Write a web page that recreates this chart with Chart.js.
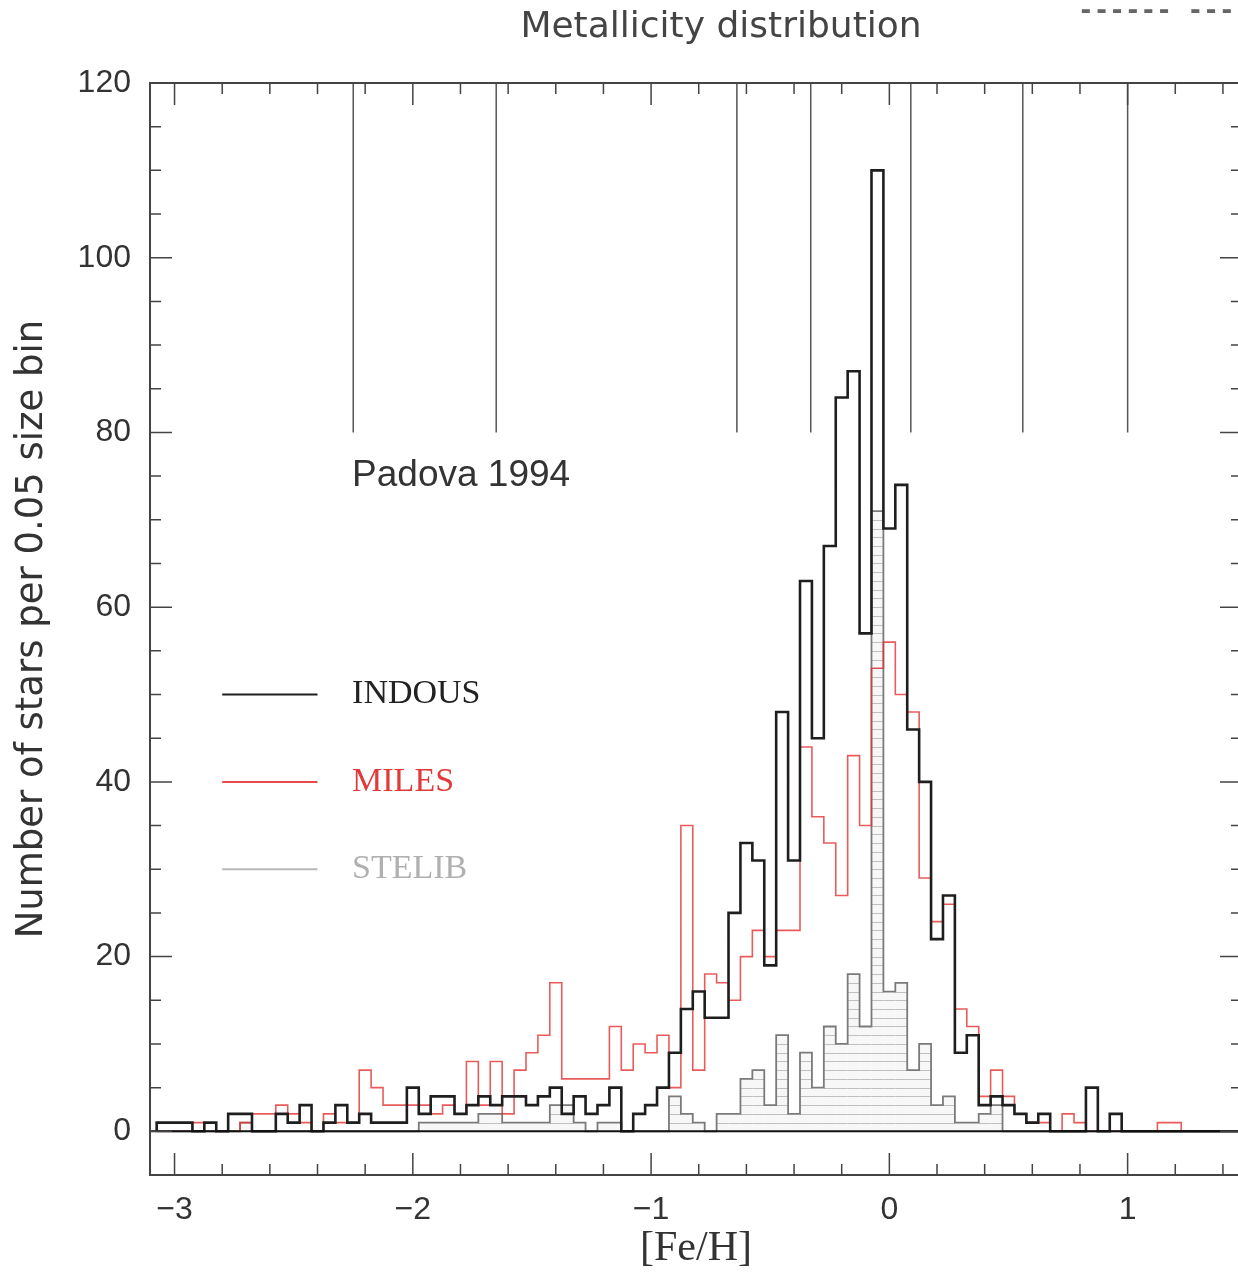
<!DOCTYPE html>
<html>
<head>
<meta charset="utf-8">
<script src="https://cdn.jsdelivr.net/npm/chart.js@4.4.0/dist/chart.umd.min.js"></script>
<style>
  html, body { margin: 0; padding: 0; overflow: hidden; background: #fff; }
  #wrap { width: 1248px; height: 1275px; }
</style>
</head>
<body>
<div id="wrap"><canvas id="metCanvas" width="1248" height="1275"></canvas></div>
<script>
// [Fe/H] histograms in 0.05 dex bins, first bin centred on -3.05
const binStart = -3.075;
const binWidth = 0.05;

const indous = [
  1, 1, 1, 0, 1, 0, 2, 2, 0, 0,
  2, 1, 3, 0, 1, 3, 1, 2, 1, 1,
  1, 5, 2, 4, 4, 2, 3, 4, 3, 4,
  4, 3, 4, 5, 2, 4, 2, 3, 5, 0,
  2, 3, 5, 9, 14, 16, 13, 13, 25, 33,
  31, 19, 48, 31, 63, 45, 67, 84, 87, 57,
  110, 69, 74, 46, 40, 22, 27, 9, 11, 3,
  4, 3, 2, 1, 2, 0, 0, 0, 5, 0,
  2, 0, 0, 0, 0, 0, 0, 0, 0, 0, 0
];
const miles = [
  0, 0, 0, 1, 0, 0, 0, 1, 2, 2,
  3, 2, 1, 0, 2, 1, 1, 7, 5, 3,
  3, 3, 3, 2, 3, 2, 8, 3, 8, 2,
  7, 9, 11, 17, 6, 6, 6, 6, 12, 7,
  10, 9, 11, 5, 35, 7, 18, 17, 15, 20,
  23, 20, 23, 23, 44, 36, 33, 27, 43, 35,
  53, 56, 50, 48, 29, 24, 26, 14, 12, 4,
  7, 4, 2, 1, 1, 0, 2, 1, 0, 0,
  0, 0, 0, 0, 1, 1, 0, 0, 0, 0, 0
];
const stelib = [
  0, 0, 0, 0, 0, 0, 0, 1, 0, 0,
  0, 0, 0, 0, 0, 0, 0, 0, 0, 0,
  0, 0, 1, 1, 1, 1, 1, 2, 2, 1,
  1, 1, 1, 3, 3, 1, 0, 1, 1, 0,
  0, 0, 0, 4, 2, 1, 0, 2, 2, 6,
  7, 3, 11, 2, 9, 5, 12, 10, 18, 12,
  71, 16, 17, 7, 10, 3, 4, 1, 1, 2,
  3, 0, 0, 0, 0, 0, 0, 0, 0, 0,
  0, 0, 0, 0, 0, 0, 0, 0, 0, 0, 0
];

// Padova 1994 isochrone metallicities, marked along the top
const padovaFeH = [-2.25, -1.65, -0.64, -0.33, 0.09, 0.56, 1.0];

const xTicks = [-3, -2, -1, 0, 1];
const yTicks = [0, 20, 40, 60, 80, 100, 120];
const minorX = 0.2;
const minorY = 5;

// stepped outline through the bin edges
function outline(counts) {
  const pts = [{x: binStart, y: 0}];
  counts.forEach((c, i) => pts.push({x: binStart + i * binWidth, y: c}));
  pts.push({x: binStart + counts.length * binWidth, y: 0});
  return pts;
}

const padovaPts = [];
padovaFeH.forEach(v => {
  padovaPts.push({x: v, y: 80}, {x: v, y: 120}, {x: v, y: null});
});

const minus = v => String(v).replace('-', '\u2212');

// horizontal hatching inside the STELIB histogram
const hatchPlugin = {
  id: 'hatch',
  beforeDatasetsDraw(chart) {
    const {ctx, chartArea: a, scales: {x, y}} = chart;
    ctx.save();
    ctx.beginPath();
    ctx.rect(a.left, a.top, a.width, a.height);
    ctx.clip();
    ctx.strokeStyle = '#c6c6c6';
    ctx.lineWidth = 1;
    ctx.beginPath();
    stelib.forEach((c, i) => {
      const x0 = x.getPixelForValue(binStart + i * binWidth);
      const x1 = x.getPixelForValue(binStart + (i + 1) * binWidth);
      for (let k = 1; k < c; k++) {
        const py = Math.round(y.getPixelForValue(k)) + 0.5;
        ctx.moveTo(x0, py);
        ctx.lineTo(x1, py);
      }
    });
    ctx.stroke();
    ctx.restore();
  }
};

const legendRows = [
  {label: 'INDOUS', line: '#1e1e1e', text: '#222', y: 50},
  {label: 'MILES', line: '#e84a4a', text: '#e03a3a', y: 40},
  {label: 'STELIB', line: '#b8b8b8', text: '#b0b0b0', y: 30}
];

// box with inward ticks on all sides, zero line, legend and labels
const framePlugin = {
  id: 'frame',
  afterDatasetsDraw(chart) {
    const {ctx, chartArea: a, scales: {x, y}} = chart;
    ctx.save();

    ctx.strokeStyle = '#111';
    ctx.lineWidth = 2;
    ctx.beginPath();
    ctx.moveTo(a.left, y.getPixelForValue(0));
    ctx.lineTo(a.right, y.getPixelForValue(0));
    ctx.stroke();

    ctx.strokeStyle = '#444';
    ctx.lineWidth = 2;
    ctx.strokeRect(a.left, a.top, a.width, a.height);

    ctx.lineWidth = 1.5;
    ctx.beginPath();
    for (let i = -16; i <= 8; i++) {
      const v = i * minorX;
      if (v < x.min || v > x.max) continue;
      const px = x.getPixelForValue(v);
      const len = i % 5 === 0 ? 22 : 11;
      ctx.moveTo(px, a.bottom); ctx.lineTo(px, a.bottom - len);
      ctx.moveTo(px, a.top); ctx.lineTo(px, a.top + len);
    }
    for (let v = 0; v <= 120; v += minorY) {
      const py = y.getPixelForValue(v);
      const len = v % 20 === 0 ? 22 : 11;
      ctx.moveTo(a.left, py); ctx.lineTo(a.left + len, py);
      ctx.moveTo(a.right, py); ctx.lineTo(a.right - len, py);
    }
    ctx.stroke();

    // legend
    const lx0 = x.getPixelForValue(-2.8), lx1 = x.getPixelForValue(-2.4);
    const tx = x.getPixelForValue(-2.255);
    ctx.textBaseline = 'middle';
    ctx.textAlign = 'left';
    legendRows.forEach(r => {
      const py = y.getPixelForValue(r.y);
      ctx.strokeStyle = r.line;
      ctx.lineWidth = 2;
      ctx.beginPath(); ctx.moveTo(lx0, py); ctx.lineTo(lx1, py); ctx.stroke();
      ctx.fillStyle = r.text;
      ctx.font = '34px "Liberation Serif"';
      ctx.fillText(r.label, tx, py);
    });

    ctx.fillStyle = '#333';
    ctx.font = '37px "Liberation Sans"';
    ctx.fillText('Padova 1994', tx, y.getPixelForValue(75));

    ctx.textAlign = 'center';
    ctx.fillStyle = '#444';
    ctx.font = '36px "DejaVu Sans"';
    ctx.fillText('Metallicity distribution', 721, 28);

    ctx.textAlign = 'left';
    ctx.fillStyle = '#666';
    ctx.font = 'bold 26px "DejaVu Sans Mono"';
    ctx.fillText('------ ----', 1078, 12);
    ctx.restore();
  }
};

new Chart(document.getElementById('metCanvas'), {
  type: 'line',
  data: {
    datasets: [
      {label: 'INDOUS', data: outline(indous), borderColor: '#1e1e1e', borderWidth: 2.6,
       stepped: 'before', pointRadius: 0, fill: false},
      {label: 'MILES', data: outline(miles), borderColor: 'rgba(228,50,50,0.8)', borderWidth: 1.6,
       stepped: 'before', pointRadius: 0, fill: false},
      {label: 'STELIB', data: outline(stelib), borderColor: '#7a7a7a', borderWidth: 1.8,
       stepped: 'before', pointRadius: 0, fill: 'origin', backgroundColor: 'rgba(0,0,0,0.03)'},
      {label: 'Padova 1994', data: padovaPts, borderColor: '#555', borderWidth: 1.5,
       pointRadius: 0, spanGaps: false, fill: false}
    ]
  },
  options: {
    responsive: false,
    animation: false,
    devicePixelRatio: 1,
    layout: {padding: {top: 83, right: 6, left: 0, bottom: 0}},
    plugins: {legend: {display: false}, tooltip: {enabled: false}},
    scales: {
      x: {
        type: 'linear', min: -3.103, max: 1.48,
        grid: {display: false, drawTicks: false},
        border: {display: false},
        afterBuildTicks: s => { s.ticks = xTicks.map(v => ({value: v})); },
        afterFit: s => { s.height = 100; },
        ticks: {padding: 16, color: '#333', font: {family: 'Liberation Sans', size: 32},
                maxRotation: 0, callback: v => minus(v)},
        title: {display: true, text: '[Fe/H]', color: '#333', padding: {top: 0, bottom: 1},
                font: {family: 'Liberation Serif', size: 42}}
      },
      y: {
        type: 'linear', min: -5, max: 120,
        grid: {display: false, drawTicks: false},
        border: {display: false},
        afterBuildTicks: s => { s.ticks = yTicks.map(v => ({value: v})); },
        afterFit: s => { s.width = 150; },
        ticks: {padding: 19, color: '#333', font: {family: 'Liberation Sans', size: 32}},
        title: {display: true, text: 'Number of stars per 0.05 size bin', color: '#333',
                padding: {top: 10, bottom: 0}, font: {family: 'DejaVu Sans', size: 37}}
      }
    }
  },
  plugins: [hatchPlugin, framePlugin]
});
</script>
</body>
</html>
